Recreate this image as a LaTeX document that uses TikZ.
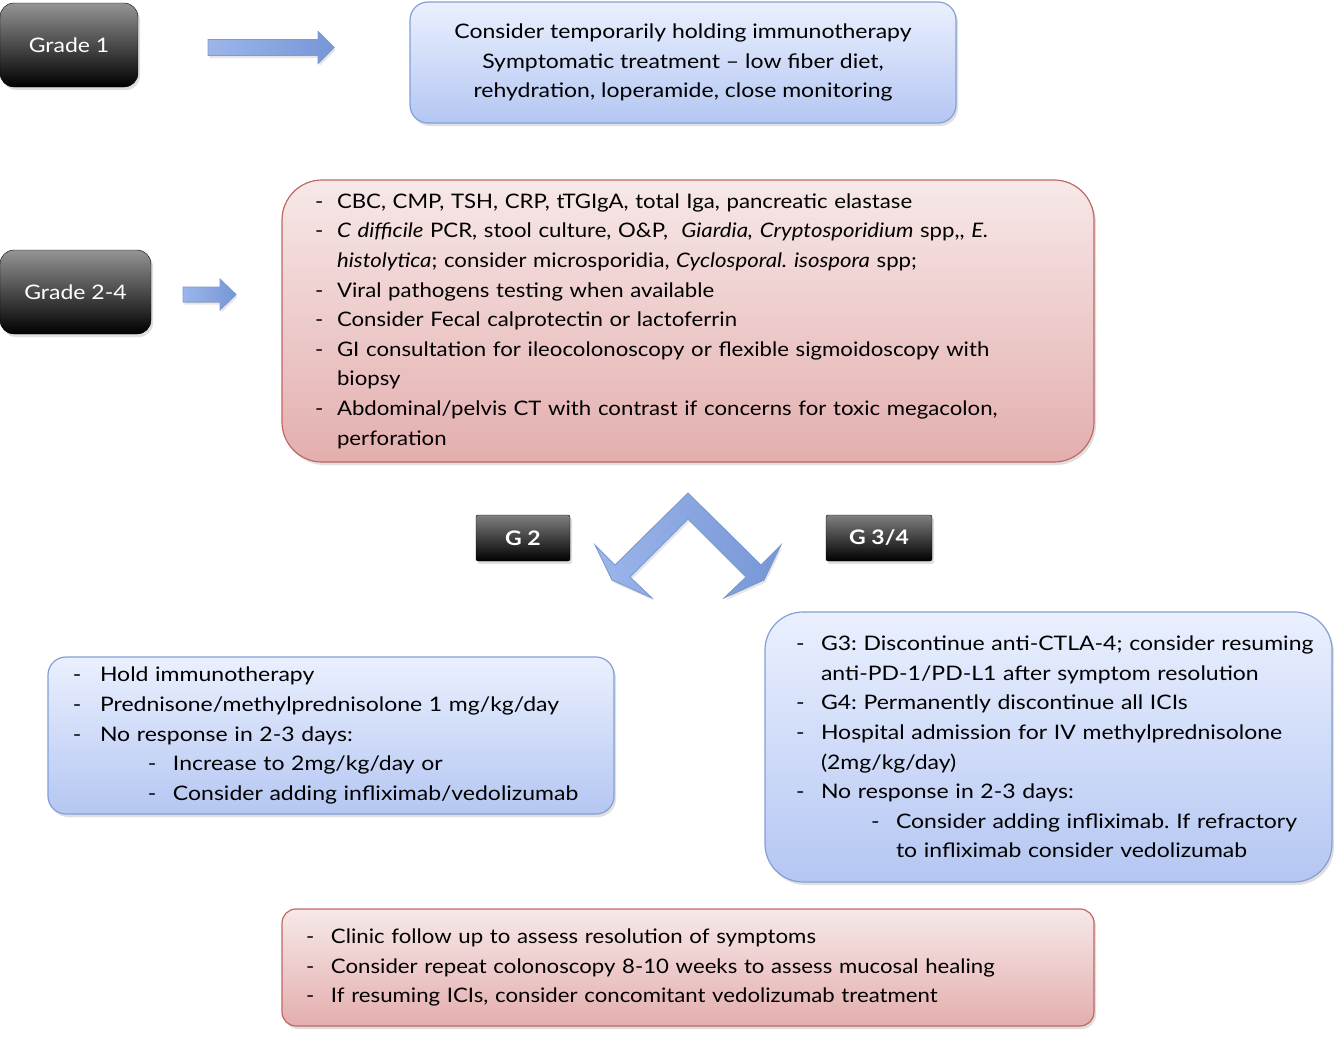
\documentclass[tikz,border=0pt]{standalone}
\usepackage{fontspec}
\setmainfont{Lato}[FakeStretch=1.15]
\newfontfamily\redfont{Lato}[FakeStretch=1.11]
\usetikzlibrary{shadows}

\definecolor{bluetop}{RGB}{234,240,254}
\definecolor{bluebot}{RGB}{180,198,242}
\definecolor{blueline}{RGB}{130,160,214}
\definecolor{redtop}{RGB}{247,232,232}
\definecolor{redbot}{RGB}{228,174,174}
\definecolor{redline}{RGB}{192,104,100}
\definecolor{arrowleft}{RGB}{156,182,234}
\definecolor{arrowright}{RGB}{118,150,214}
\definecolor{arrowline}{RGB}{124,154,212}

\newlength\listpad
\newlength\itmwd
\newcommand\itm{\hspace*{\listpad}\makebox[\itmwd][l]{-}}
\newcommand\cont{\hspace*{\dimexpr\listpad+\itmwd\relax}}
\newcommand\subitm{\hspace*{\dimexpr\listpad+75pt\relax}\makebox[25pt][l]{-}}
\newcommand\subcont{\hspace*{\dimexpr\listpad+100pt\relax}}

\begin{document}
\frenchspacing
\begin{tikzpicture}[x=1pt,y=-1pt,
		font=\fontsize{20}{29.6}\selectfont,
		gradebox/.style={draw=black,rounded corners=14pt,top color=black!42,bottom color=black,
			text=white,minimum width=#1,minimum height=84pt,
			drop shadow={shadow xshift=2pt,shadow yshift=-3pt,opacity=0.25}},
		gbox/.style={draw=black,rounded corners=2pt,top color=black!50,bottom color=black,
			text=white,font=\fontsize{20}{24}\selectfont\bfseries,minimum width=#1,minimum height=46pt,
			drop shadow={shadow xshift=2pt,shadow yshift=-3pt,opacity=0.25}},
		bluebox/.style={draw=blueline,line width=1.2pt,top color=bluetop,bottom color=bluebot,
			drop shadow={shadow xshift=2pt,shadow yshift=-3pt,opacity=0.25}},
		redbox/.style={draw=redline,line width=1.2pt,top color=redtop,bottom color=redbot,
			font=\fontsize{20}{29.6}\redfont,
			drop shadow={shadow xshift=2pt,shadow yshift=-3pt,opacity=0.25}},
		listbox/.style 2 args={inner xsep=8pt,align=left,
			execute at begin node={\setlength\listpad{#1}\setlength\itmwd{#2}}},
		blockarrow/.style={draw=arrowline,line width=0.8pt,left color=arrowleft,right color=arrowright,
			drop shadow={shadow xshift=1.5pt,shadow yshift=-2.5pt,opacity=0.2}}]
		\useasboundingbox (0,0) rectangle (1334,1052);

		% grades on the left
		\node[gradebox=138pt] (grade1) at (69,45) {Grade 1};
		\node[gradebox=151pt] (grade24) at (75.5,292) {Grade 2-4};

		% grade 1
		\node[bluebox,rounded corners=18pt,minimum width=546pt,minimum height=121pt,align=center] (hold) at (683,62.5)
			{Consider temporarily holding immunotherapy\\
			 Symptomatic treatment -- low fiber diet,\\
			 rehydration, loperamide, close monitoring};

		% grade 2-4 work-up
		\node[redbox,rounded corners=40pt,minimum width=812pt,minimum height=282pt,
			listbox={25pt}{22pt},text width=796pt] (workup) at (688,321)
			{\itm CBC, CMP, TSH, CRP, tTGIgA, total Iga, pancreatic elastase\\
			 \itm\textit{C difficile} PCR, stool culture, O\&P, \ \textit{Giardia, Cryptosporidium} spp,, \textit{E.}\\
			 \cont\textit{histolytica}; consider microsporidia, \textit{Cyclosporal. isospora} spp;\\
			 \itm Viral pathogens testing when available\\
			 \itm Consider Fecal calprotectin or lactoferrin\\
			 \itm GI consultation for ileocolonoscopy or flexible sigmoidoscopy with\\
			 \cont biopsy\\
			 \itm Abdominal/pelvis CT with contrast if concerns for toxic megacolon,\\
			 \cont perforation};

		\node[gbox=94pt] (g2) at (523,538) {G 2};
		\node[gbox=106pt] (g34) at (879,538) {G 3/4};

		% grade 2
		\node[bluebox,rounded corners=18pt,minimum width=566pt,minimum height=157pt,
			listbox={17pt}{27pt},text width=550pt] (mild) at (331,735.5)
			{\itm Hold immunotherapy\\
			 \itm Prednisone/methylprednisolone 1 mg/kg/day\\
			 \itm No response in 2-3 days:\\
			 \subitm Increase to 2mg/kg/day or\\
			 \subitm Consider adding infliximab/vedolizumab};

		% grade 3/4
		\node[bluebox,rounded corners=38pt,minimum width=567pt,minimum height=270pt,
			listbox={23pt}{25pt},text width=551pt] (severe) at (1048.5,747)
			{\itm G3: Discontinue anti-CTLA-4; consider resuming\\
			 \cont anti-PD-1/PD-L1 after symptom resolution\\
			 \itm G4: Permanently discontinue all ICIs\\
			 \itm Hospital admission for IV methylprednisolone\\
			 \cont (2mg/kg/day)\\
			 \itm No response in 2-3 days:\\
			 \subitm Consider adding infliximab. If refractory\\
			 \subcont to infliximab consider vedolizumab};

		% follow up
		\node[redbox,rounded corners=14pt,minimum width=812pt,minimum height=117pt,
			listbox={16pt}{25pt},text width=796pt] (followup) at (688,967.5)
			{\itm Clinic follow up to assess resolution of symptoms\\
			 \itm Consider repeat colonoscopy 8-10 weeks to assess mucosal healing\\
			 \itm If resuming ICIs, consider concomitant vedolizumab treatment};

		% block arrows
		\coordinate (a1) at (208,47.5);
		\coordinate (a2) at (183,294.5);
		\coordinate (fork) at (688,493);
		\filldraw[blockarrow] (a1) ++(0,-8) -- ++(110,0) -- ++(0,-8) -- ++(16,16)
			-- ++(-16,16) -- ++(0,-8) -- ++(-110,0) -- cycle;
		\filldraw[blockarrow] (a2) ++(0,-7.5) -- ++(37,0) -- ++(0,-8) -- ++(16,15.5)
			-- ++(-16,15.5) -- ++(0,-8) -- ++(-37,0) -- cycle;
		\filldraw[blockarrow,shift={(fork)}] (0,0) -- (-73,72) -- (-93,52) -- (-76,87) -- (-36,105)
			-- (-58,84) -- (0,26) -- (58,84) -- (36,105) -- (76,87) -- (93,52) -- (73,72) -- cycle;
	\end{tikzpicture}
\end{document}
